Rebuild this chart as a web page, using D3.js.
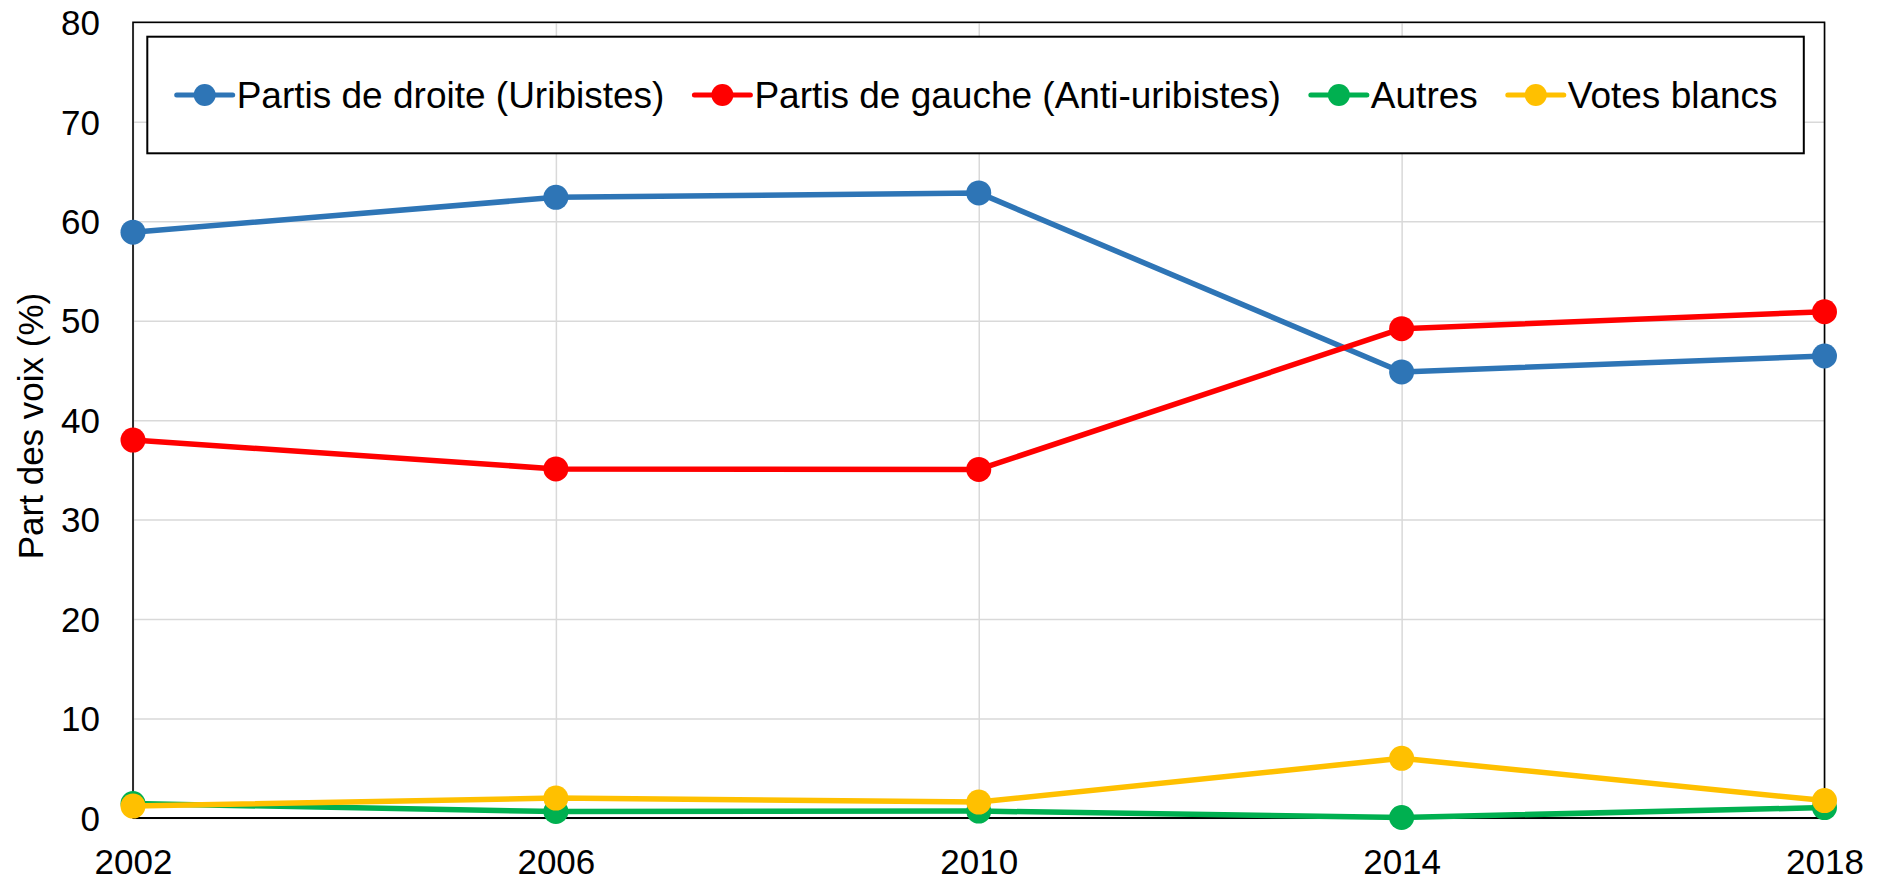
<!DOCTYPE html>
<html>
<head>
  <meta charset="utf-8">
  <title>Part des voix</title>
  <script src="https://d3js.org/d3.v7.min.js"></script>
  <style>
    body { margin: 0; background: #fff; }
    svg text { font-family: "Liberation Sans", Arial, sans-serif; fill: #000; }
    .grid line { stroke: #d9d9d9; stroke-width: 1.5px; }
    .grid path { display: none; }
  </style>
</head>
<body>
  <svg width="1883" height="879"></svg>
  <script>
    // donnees
    var years = [2002, 2006, 2010, 2014, 2018];
    var droite = [58.9, 62.4, 62.85, 44.85, 46.45];
    var gauche = [38.0, 35.1, 35.05, 49.2, 50.9];
    var autres = [1.45, 0.65, 0.7, 0.05, 1.05];
    var blancs = [1.2, 2.0, 1.6, 6.0, 1.75];
    var yTicks = [0, 10, 20, 30, 40, 50, 60, 70, 80];

    var series = [
      { name: "Partis de droite (Uribistes)", values: droite, color: "#2e75b6" },
      { name: "Partis de gauche (Anti-uribistes)", values: gauche, color: "#ff0000" },
      { name: "Autres", values: autres, color: "#00b050" },
      { name: "Votes blancs", values: blancs, color: "#ffc000" }
    ];

    function draw() {
      var x0 = 133, x1 = 1824.5, y0 = 22.3, y1 = 818;
      var svg = d3.select("svg");

      var x = d3.scaleLinear().domain([2002, 2018]).range([x0, x1]);
      var y = d3.scaleLinear().domain([0, 80]).range([y1, y0]);

      // grilles
      svg.append("g")
        .attr("class", "grid")
        .attr("transform", "translate(" + x0 + ",0)")
        .call(d3.axisLeft(y).tickValues(yTicks).tickSize(-(x1 - x0)).tickFormat(""));
      svg.append("g")
        .attr("class", "grid")
        .attr("transform", "translate(0," + y1 + ")")
        .call(d3.axisBottom(x).tickValues(years).tickSize(-(y1 - y0)).tickFormat(""));

      // cadre
      svg.append("rect")
        .attr("x", x0).attr("y", y0)
        .attr("width", x1 - x0).attr("height", y1 - y0)
        .attr("fill", "none").attr("stroke", "#000").attr("stroke-width", 1.6);
      svg.append("line")
        .attr("x1", x0).attr("x2", x1).attr("y1", y1).attr("y2", y1)
        .attr("stroke", "#000").attr("stroke-width", 2.2);

      // axes
      var yAxis = svg.append("g")
        .attr("transform", "translate(" + x0 + ",0)")
        .call(d3.axisLeft(y).tickValues(yTicks).tickSize(0).tickPadding(33));
      yAxis.select(".domain").remove();
      yAxis.selectAll("text").style("font-size", "35px").attr("dy", "0.35em");

      var xAxis = svg.append("g")
        .attr("transform", "translate(0," + y1 + ")")
        .call(d3.axisBottom(x).tickValues(years).tickFormat(d3.format("d")).tickSize(0).tickPadding(31));
      xAxis.select(".domain").remove();
      xAxis.selectAll("text").style("font-size", "35px").attr("dy", "0.71em");

      svg.append("text")
        .attr("transform", "translate(43,426) rotate(-90)")
        .attr("text-anchor", "middle")
        .style("font-size", "35px")
        .text("Part des voix (%)");

      // courbes
      var line = d3.line()
        .x(function (d, i) { return x(years[i]); })
        .y(function (d) { return y(d); });

      series.forEach(function (s) {
        svg.append("path")
          .attr("d", line(s.values))
          .attr("fill", "none")
          .attr("stroke", s.color)
          .attr("stroke-width", 5.5)
          .attr("stroke-linejoin", "round");
        svg.selectAll(null)
          .data(s.values)
          .enter()
          .append("circle")
          .attr("cx", function (d, i) { return x(years[i]); })
          .attr("cy", function (d) { return y(d); })
          .attr("r", 12.5)
          .attr("fill", s.color);
      });

      // legende
      svg.append("rect")
        .attr("x", 147.3).attr("y", 36.7)
        .attr("width", 1803.8 - 147.3).attr("height", 153.3 - 36.7)
        .attr("fill", "#fff").attr("stroke", "#000").attr("stroke-width", 2);

      var lx = 176.7, ly = 95;
      series.forEach(function (s) {
        var g = svg.append("g");
        g.append("line")
          .attr("x1", lx).attr("x2", lx + 56)
          .attr("y1", ly).attr("y2", ly)
          .attr("stroke", s.color).attr("stroke-width", 5)
          .attr("stroke-linecap", "round");
        g.append("circle")
          .attr("cx", lx + 28).attr("cy", ly).attr("r", 11)
          .attr("fill", s.color);
        var t = g.append("text")
          .attr("x", lx + 60).attr("y", ly).attr("dy", "0.35em")
          .style("font-size", "37px")
          .text(s.name);
        lx = lx + 60 + t.node().getComputedTextLength() + 30;
      });
    }

    draw();
  </script>
</body>
</html>
